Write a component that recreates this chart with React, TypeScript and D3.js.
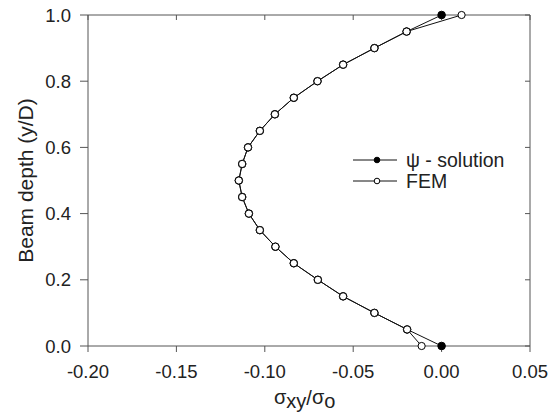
import React from "react";
import * as d3 from "d3";

const depth = [0, 0.05, 0.1, 0.15, 0.2, 0.25, 0.3, 0.35, 0.4, 0.45, 0.5, 0.55, 0.6, 0.65, 0.7, 0.75, 0.8, 0.85, 0.9, 0.95, 1.0];
const psiValues = [0, -0.0195, -0.038, -0.0557, -0.070, -0.0836, -0.094, -0.1028, -0.109, -0.1128, -0.1147, -0.1128, -0.1095, -0.1028, -0.0943, -0.0836, -0.0702, -0.0557, -0.038, -0.0198, 0];
const femValues = [-0.0113, -0.0195, -0.038, -0.0557, -0.070, -0.0836, -0.094, -0.1028, -0.109, -0.1128, -0.1147, -0.1128, -0.1095, -0.1028, -0.0943, -0.0836, -0.0702, -0.0557, -0.038, -0.0198, 0.0113];
const xTicks = [-0.2, -0.15, -0.1, -0.05, 0, 0.05];
const yTicks = [0, 0.2, 0.4, 0.6, 0.8, 1.0];
const seriesNames = ["ψ - solution", "FEM"];

const W = 558;
const H = 417;
const left = 88, right = 530, top = 15, bottom = 346;
const FONT = "'Liberation Sans', Arial, sans-serif";
const AXIS = "#555";
const TXT = "#222";

export default function App() {
  const x = d3.scaleLinear().domain([-0.2, 0.05]).range([left, right]);
  const y = d3.scaleLinear().domain([0, 1]).range([bottom, top]);
  const fmtX = (v: number) => d3.format(".2f")(v).replace("−", "-");
  const fmtY = (v: number) => d3.format(".1f")(v).replace("−", "-");

  const psiPts = depth.map((d, i) => [psiValues[i], d] as [number, number]);
  const femPts = depth.map((d, i) => [femValues[i], d] as [number, number]);
  const line = d3.line<[number, number]>().x((p) => x(p[0])).y((p) => y(p[1]));

  const legY = [160, 181];

  return (
    <svg width={W} height={H} style={{ position: "absolute", left: 0, top: 0, background: "#fff" }} fontFamily={FONT}>
      <rect x={0} y={0} width={W} height={H} fill="#fff" />
      {/* frame */}
      <line x1={left} x2={right} y1={top} y2={top} stroke={AXIS} strokeWidth={1} />
      <line x1={right} x2={right} y1={top} y2={bottom} stroke={AXIS} strokeWidth={1} />
      <line x1={left} x2={left} y1={top} y2={bottom} stroke={AXIS} strokeWidth={1} />
      <line x1={left} x2={right} y1={bottom} y2={bottom} stroke={AXIS} strokeWidth={1} />
      {/* x ticks */}
      {xTicks.map((t) => (
        <g key={"xt" + t}>
          <line x1={x(t)} x2={x(t)} y1={bottom} y2={bottom + 6} stroke={AXIS} />
          <line x1={x(t)} x2={x(t)} y1={top} y2={top + 5} stroke={AXIS} />
          <text x={x(t)} y={bottom + 32} textAnchor="middle" fontSize={18.5} fill={TXT}>
            {fmtX(t)}
          </text>
        </g>
      ))}
      {/* y ticks */}
      {yTicks.map((t) => (
        <g key={"yt" + t}>
          <line x1={left - 8} x2={left} y1={y(t)} y2={y(t)} stroke={AXIS} />
          <line x1={right - 5} x2={right} y1={y(t)} y2={y(t)} stroke={AXIS} />
          <text x={left - 17} y={y(t) + 6.5} textAnchor="end" fontSize={18.5} fill={TXT}>
            {fmtY(t)}
          </text>
        </g>
      ))}
      {/* axis titles */}
      <text transform={`translate(33,${(top + bottom) / 2}) rotate(-90)`} textAnchor="middle" fontSize={21} fill={TXT}>
        Beam depth (y/D)
      </text>
      <text x={274} y={404} fontSize={20} fill={TXT}>
        <tspan>σ</tspan>
        <tspan dy={4}>xy</tspan>
        <tspan dy={-3}>/</tspan>
        <tspan dy={-1}>σ</tspan>
        <tspan dy={4}>o</tspan>
      </text>
      {/* psi solution */}
      <path d={line(psiPts) || ""} fill="none" stroke="#111" strokeWidth={1} />
      {psiPts.map((p, i) => (
        <circle key={"p" + i} cx={x(p[0])} cy={y(p[1])} r={3.8} fill="#000" stroke="#000" />
      ))}
      {/* FEM */}
      <path d={line(femPts) || ""} fill="none" stroke="#111" strokeWidth={1} />
      {femPts.map((p, i) => (
        <circle key={"f" + i} cx={x(p[0])} cy={y(p[1])} r={3.6} fill="#fff" stroke="#000" strokeWidth={1} />
      ))}
      {/* legend */}
      {seriesNames.map((name, i) => (
        <g key={name}>
          <line x1={353} x2={397} y1={legY[i]} y2={legY[i]} stroke="#111" />
          <circle cx={377} cy={legY[i]} r={2.8} fill={i === 0 ? "#000" : "#fff"} stroke="#000" />
          <text x={406} y={legY[i] + 6.5} fontSize={19.5} fill={TXT}>
            {name}
          </text>
        </g>
      ))}
    </svg>
  );
}
